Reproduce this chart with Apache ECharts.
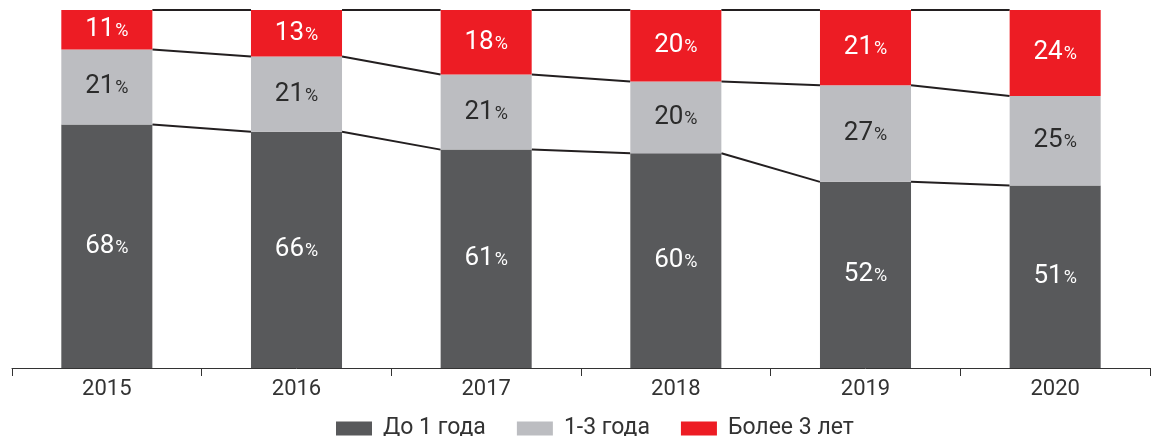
<!DOCTYPE html>
<html><head><meta charset="utf-8">
<script src="https://cdn.jsdelivr.net/npm/echarts@6/dist/echarts.min.js"></script>
<style>html,body{margin:0;padding:0;background:#fff}#c{width:1159px;height:436px}</style>
</head><body><div id="c"></div>
<script>
const categories = ['2015','2016','2017','2018','2019','2020'];
const upTo1 = [68, 66, 61, 60, 52, 51];
const oneTo3 = [21, 21, 21, 20, 27, 25];
const over3 = [11, 13, 18, 20, 21, 24];
const seriesNames = ['До 1 года', '1-3 года', 'Более 3 лет'];

const colors = ['#58595b', '#bcbdc1', '#ed1c24'];
const cum1 = upTo1.slice();
const cum2 = upTo1.map((v, i) => v + oneTo3[i]);
const cum3 = cum2.map((v, i) => v + over3[i]);

const connData = [];
[cum1, cum2, cum3].forEach(arr => {
  for (let i = 0; i < arr.length - 1; i++) connData.push([i, arr[i], arr[i + 1]]);
});

const BW = 0.48;
function lbl(color) {
  return {
    show: true, position: 'inside',
    formatter: p => '{n|' + p.value + '}{p|%}',
    rich: {
      n: {fontSize: 26, color: color, fontFamily: 'Roboto'},
      p: {fontSize: 18, color: color, fontFamily: 'Roboto', padding: [4, 0, 0, 1]}
    }
  };
}
const chart = echarts.init(document.getElementById('c'));
chart.setOption({
  animation: false,
  textStyle: {fontFamily: 'Roboto'},
  grid: {left: 12, right: 9, top: 10, bottom: 68},
  legend: {
    top: 412, left: 331, itemWidth: 36, itemHeight: 14, itemGap: 31,
    icon: 'rect',
    textStyle: {fontSize: 23, color: '#333', fontFamily: 'Roboto', padding: [0, 0, 0, 6]},
    data: seriesNames
  },
  xAxis: {
    type: 'category', data: categories, boundaryGap: true,
    axisLine: {lineStyle: {color: '#333', width: 1}},
    axisTick: {show: true, length: 8, lineStyle: {color: '#333'}},
    axisLabel: {fontSize: 22, color: '#333', margin: 10}
  },
  yAxis: {type: 'value', min: 0, max: 100, show: false, splitLine: {show: false}},
  series: [
    {name: seriesNames[0], type: 'bar', stack: 's', data: upTo1, barWidth: (BW * 100) + '%',
     itemStyle: {color: colors[0]}, label: lbl('#ffffff')},
    {name: seriesNames[1], type: 'bar', stack: 's', data: oneTo3,
     itemStyle: {color: colors[1]}, label: lbl('#2b2b2b')},
    {name: seriesNames[2], type: 'bar', stack: 's', data: over3,
     itemStyle: {color: colors[2]}, label: lbl('#ffffff')},
    {type: 'custom', data: connData, encode: {x: 0, y: [1, 2]}, silent: true,
     renderItem: function (params, api) {
       const i = api.value(0);
       const a = api.coord([i, api.value(1)]);
       const b = api.coord([i + 1, api.value(2)]);
       const hw = api.size([1, 0])[0] * BW / 2;
       return {type: 'line', shape: {x1: a[0] + hw, y1: a[1], x2: b[0] - hw, y2: b[1]},
         style: {stroke: '#231f20', lineWidth: 2}};
     }}
  ]
});
</script></body></html>
